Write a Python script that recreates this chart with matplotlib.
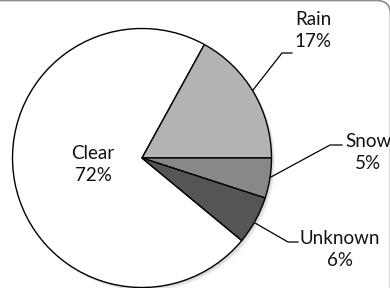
import matplotlib.pyplot as plt
from matplotlib.patches import FancyBboxPatch, Circle

# --- data ---
labels = ["Clear", "Rain", "Snow", "Unknown"]
values = [72, 17, 5, 6]
colors = ["#ffffff", "#b3b3b3", "#888888", "#555555"]

# --- figure in pixel-ish coordinates (y up) ---
fig = plt.figure(figsize=(3.9, 2.88), dpi=100)
ax = fig.add_axes([0, 0, 1, 1])

# rounded frame, mostly cropped off the canvas
frame = FancyBboxPatch((-30, -30), 420.5, 317.5, boxstyle="round,pad=0,rounding_size=14",
                       transform=ax.transData, fill=False, edgecolor="#8c8c8c", linewidth=1.2,
                       clip_on=False)
ax.add_patch(frame)

cx, cy, r = 142, 130, 129.5

# soft shadow under the pie
for i, a in enumerate([0.05, 0.05, 0.06]):
    ax.add_patch(Circle((cx + 1.5 + i, cy - 1.5 - i), r, color="black", alpha=a, lw=0, zorder=0))

start = 360 * (values[0] + values[1]) / 100
ax.pie(values, colors=colors, startangle=start, counterclock=False, center=(cx, cy), radius=r,
       wedgeprops=dict(edgecolor="black", linewidth=1.0), frame=True)
ax.set_xlim(0, 390)
ax.set_ylim(0, 288)
ax.set_aspect("equal")
ax.axis("off")

font = dict(family=["Lato", "DejaVu Sans"], fontsize=13.5, color="#111111", ha="center", va="center",
            linespacing=1.3)

ax.text(93, 123.5, f"{labels[0]}\n{values[0]}%", **font)
ax.text(313, 257.5, f"{labels[1]}\n{values[1]}%", **font)
ax.text(368, 135.5, f"{labels[2]}\n{values[2]}%", **font)
ax.text(340, 38.5, f"{labels[3]}\n{values[3]}%", **font)

# leader lines
lk = dict(color="black", lw=0.9)
ax.plot([253, 282, 292], [288 - 90, 288 - 53, 288 - 53], **lk)
ax.plot([271, 330, 342], [288 - 177, 288 - 145, 288 - 145], **lk)
ax.plot([255, 288, 298], [288 - 223, 288 - 242, 288 - 242], **lk)

fig.savefig("out.png", dpi=100)
